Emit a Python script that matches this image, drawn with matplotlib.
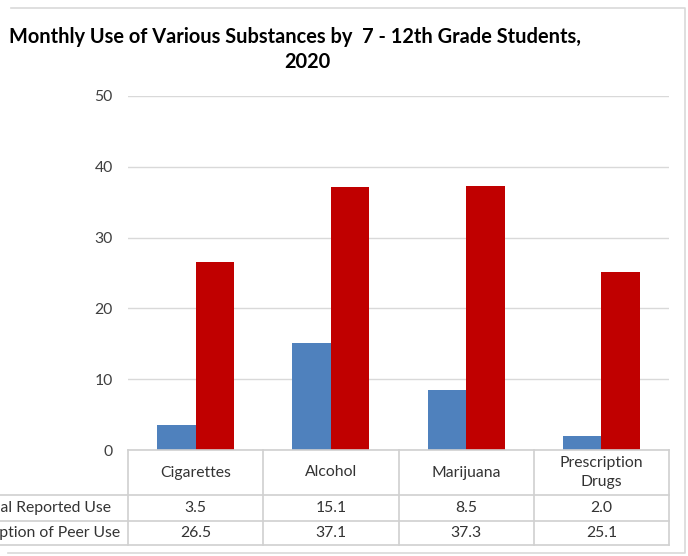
import numpy as np
import matplotlib
matplotlib.use("Agg")
import matplotlib.pyplot as plt

plt.rcParams["font.family"] = ["Lato", "DejaVu Sans"]

categories = ["Cigarettes", "Alcohol", "Marijuana", "Prescription\nDrugs"]
series_names = ["Actual Reported Use", "Perception of Peer Use"]
self_reported = [3.5, 15.1, 8.5, 2.0]
peer_use = [26.5, 37.1, 37.3, 25.1]
y_ticks = [0, 10, 20, 30, 40, 50]

W, H = 688, 556
BLUE = "#4F81BD"
RED = "#C00000"
GRID = "#D9D9D9"
TXT = "#333333"
FS = 11.3

fig = plt.figure(figsize=(W / 100, H / 100), dpi=100)

# plot area in pixels
left, right, top, bottom = 128, 669, 96, 450
ax = fig.add_axes([left / W, (H - bottom) / H, (right - left) / W, (bottom - top) / H])

x = np.arange(len(categories))
bw = 0.285
ax.bar(x - bw / 2, self_reported, bw, color=BLUE, zorder=3)
ax.bar(x + bw / 2, peer_use, bw, color=RED, zorder=3)

ax.set_xlim(-0.5, len(categories) - 0.5)
ax.set_ylim(0, 50)
ax.set_yticks(y_ticks)
ax.set_xticks([])
ax.yaxis.grid(True, color=GRID, linewidth=1.0, zorder=0)
ax.tick_params(axis="y", length=0, pad=11, labelsize=FS, labelcolor="#404040")
for s in ax.spines.values():
    s.set_visible(False)

# overlay in pixel coordinates for frame, title and data table
ov = fig.add_axes([0, 0, 1, 1], zorder=5)
ov.set_xlim(0, W)
ov.set_ylim(H, 0)
ov.axis("off")
ov.patch.set_alpha(0)

# chart frame (left side cut off)
ov.plot([11, 685, 685, 8], [8, 8, 553, 553], color=GRID, lw=1.2)

ov.text(295, 37, "Monthly Use of Various Substances by  7 - 12th Grade Students,",
        ha="center", va="center", fontsize=14.4, fontweight="bold", color="black")
ov.text(307, 62, "2020", ha="center", va="center", fontsize=14.4,
        fontweight="bold", color="black")

# data table
col_w = (right - left) / len(categories)
row_y = [450, 495, 521, 545]
lc = "#D0D0D0"
ov.plot([left, right], [row_y[0], row_y[0]], color=lc, lw=1.2)
for yy in row_y[1:]:
    ov.plot([0, right], [yy, yy], color=lc, lw=1.2)
for i in range(len(categories) + 1):
    xx = left + i * col_w
    ov.plot([xx, xx], [row_y[0], row_y[-1]], color=lc, lw=1.2)

for i, cat in enumerate(categories):
    cx = left + (i + 0.5) * col_w
    ov.text(cx, (row_y[0] + row_y[1]) / 2, cat, ha="center", va="center",
            fontsize=FS, color=TXT, linespacing=1.5)
    ov.text(cx, (row_y[1] + row_y[2]) / 2, f"{self_reported[i]:.1f}",
            ha="center", va="center", fontsize=FS, color=TXT)
    ov.text(cx, (row_y[2] + row_y[3]) / 2, f"{peer_use[i]:.1f}",
            ha="center", va="center", fontsize=FS, color=TXT)

# series labels sit in a column that runs off the left edge
for j, name in enumerate(series_names):
    ov.text(40, (row_y[j + 1] + row_y[j + 2]) / 2, name, ha="center",
            va="center", fontsize=FS, color=TXT)

fig.savefig("out.png", dpi=100)
